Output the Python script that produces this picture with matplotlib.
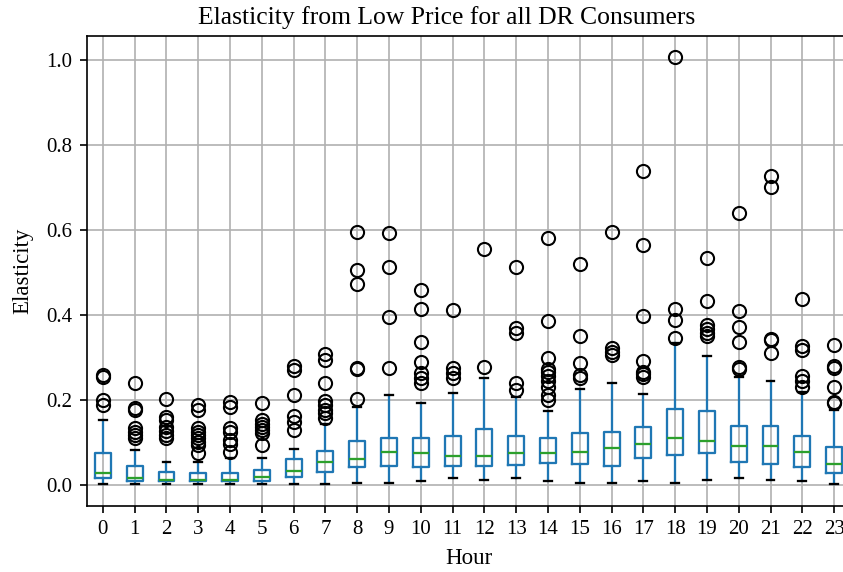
import matplotlib
matplotlib.use("Agg")
import matplotlib.pyplot as plt

plt.rcParams['font.family'] = ['Liberation Serif', 'DejaVu Serif']

hours = list(range(24))

# box statistics per hour
q1 = [0.016, 0.009, 0.009, 0.009, 0.009, 0.009, 0.020, 0.031, 0.042, 0.045, 0.042, 0.045,
      0.045, 0.047, 0.053, 0.049, 0.045, 0.065, 0.071, 0.075, 0.055, 0.051, 0.043, 0.029]
med = [0.029, 0.017, 0.012, 0.012, 0.012, 0.020, 0.033, 0.055, 0.062, 0.078, 0.075, 0.068,
       0.068, 0.075, 0.075, 0.077, 0.088, 0.097, 0.110, 0.105, 0.092, 0.092, 0.077, 0.051]
q3 = [0.075, 0.045, 0.031, 0.028, 0.028, 0.035, 0.061, 0.081, 0.105, 0.112, 0.112, 0.116,
      0.133, 0.116, 0.110, 0.122, 0.126, 0.136, 0.179, 0.175, 0.139, 0.139, 0.116, 0.090]
whislo = [0.002, 0.002, 0.002, 0.002, 0.002, 0.002, 0.002, 0.002, 0.005, 0.005, 0.009, 0.016,
          0.013, 0.016, 0.009, 0.005, 0.005, 0.009, 0.005, 0.013, 0.016, 0.013, 0.009, 0.002]
whishi = [0.153, 0.083, 0.055, 0.055, 0.063, 0.065, 0.084, 0.145, 0.183, 0.212, 0.193, 0.216,
          0.252, 0.207, 0.175, 0.226, 0.241, 0.215, 0.335, 0.304, 0.254, 0.246, 0.220, 0.177]

fliers = [
    [0.259, 0.255, 0.200, 0.189],
    [0.240, 0.181, 0.177, 0.134, 0.126, 0.118, 0.110],
    [0.202, 0.161, 0.153, 0.136, 0.128, 0.118, 0.110],
    [0.189, 0.177, 0.134, 0.126, 0.118, 0.110, 0.102, 0.094, 0.075],
    [0.196, 0.185, 0.134, 0.126, 0.106, 0.098, 0.079],
    [0.194, 0.153, 0.145, 0.138, 0.130, 0.122, 0.094],
    [0.281, 0.270, 0.212, 0.163, 0.149, 0.130],
    [0.309, 0.295, 0.240, 0.199, 0.189, 0.177, 0.169, 0.157],
    [0.595, 0.505, 0.474, 0.275, 0.273, 0.202],
    [0.592, 0.513, 0.395, 0.275],
    [0.460, 0.414, 0.336, 0.290, 0.263, 0.252, 0.241],
    [0.411, 0.275, 0.263, 0.252],
    [0.556, 0.278],
    [0.513, 0.370, 0.358, 0.240, 0.224],
    [0.582, 0.385, 0.299, 0.273, 0.265, 0.256, 0.244, 0.232, 0.212, 0.200],
    [0.519, 0.350, 0.287, 0.259, 0.252],
    [0.595, 0.322, 0.314, 0.307],
    [0.738, 0.564, 0.399, 0.292, 0.266, 0.261, 0.254],
    [1.006, 0.414, 0.388, 0.346],
    [0.535, 0.434, 0.377, 0.367, 0.359, 0.350],
    [0.639, 0.409, 0.372, 0.336, 0.279, 0.273],
    [0.726, 0.702, 0.344, 0.342, 0.311],
    [0.438, 0.328, 0.318, 0.256, 0.244, 0.232],
    [0.330, 0.281, 0.275, 0.230, 0.196, 0.193],
]

stats = []
for i, h in enumerate(hours):
    stats.append({'med': med[i], 'q1': q1[i], 'q3': q3[i],
                  'whislo': whislo[i], 'whishi': whishi[i],
                  'fliers': fliers[i], 'label': str(h)})

dpi = 150
fig = plt.figure(figsize=(843 / dpi, 572 / dpi), dpi=dpi)
ax = fig.add_axes([87 / 843, (572 - 505.7) / 572, (850 - 87) / 843, (505.7 - 36) / 572])

ax.bxp(stats, positions=[h + 1 for h in hours], widths=0.5,
       boxprops=dict(color='C0', linewidth=1.1), whiskerprops=dict(color='C0', linewidth=1.1),
       medianprops=dict(color='C2', linewidth=1.1), capprops=dict(color='k', linewidth=1.1),
       flierprops=dict(marker='o', markeredgecolor='k', markerfacecolor='none', markersize=6.3))

ax.set_yticks([0.0, 0.2, 0.4, 0.6, 0.8, 1.0])
ax.grid(True)
ax.set_axisbelow(True)
ax.set_xlabel('Hour', fontsize=11)
ax.set_ylabel('Elasticity', fontsize=11, labelpad=6)
fig.text(446.5 / 843, 1 - 18 / 572, 'Elasticity from Low Price for all DR Consumers',
         ha='center', va='center', fontsize=12.3)

fig.savefig('out.png', dpi=dpi)
